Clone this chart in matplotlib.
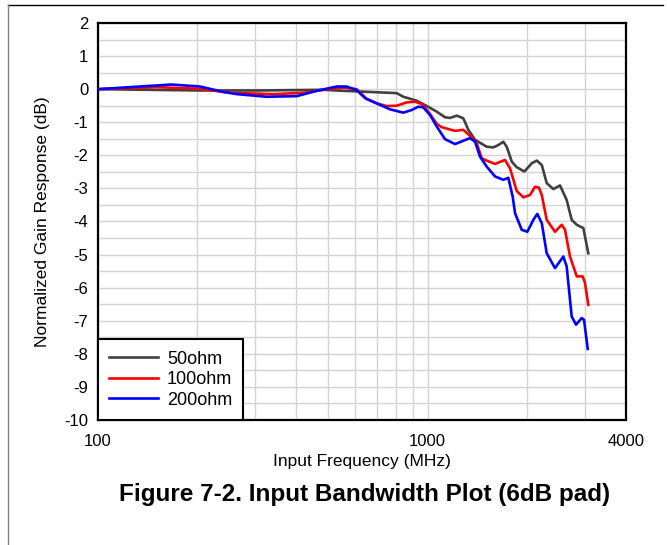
import matplotlib
matplotlib.use("Agg")
import matplotlib.pyplot as plt
from matplotlib.lines import Line2D
from matplotlib.ticker import FixedLocator, NullFormatter

plt.rcParams['font.family'] = ['Liberation Sans', 'DejaVu Sans']
plt.rcParams['axes.unicode_minus'] = False

# frequency in MHz, gain in dB
f_50 = [100, 204, 303, 482, 542, 806, 844, 927, 994, 1066, 1129, 1170, 1226,
        1283, 1329, 1393, 1442, 1511, 1583, 1639, 1697, 1738, 1800, 1864, 1966,
        2070, 2143, 2220, 2298, 2407, 2522, 2642, 2736, 2835, 2968, 3073]
g_50 = [0, -0.04, -0.04, -0.02, -0.045, -0.12, -0.23, -0.35, -0.51, -0.68,
        -0.85, -0.87, -0.80, -0.88, -1.23, -1.53, -1.62, -1.74, -1.76, -1.69,
        -1.59, -1.74, -2.19, -2.36, -2.49, -2.24, -2.16, -2.29, -2.84, -3.02,
        -2.91, -3.35, -3.95, -4.10, -4.20, -4.96]

f_100 = [100, 151, 204, 251, 340, 419, 482, 554, 609, 654, 701, 751, 806, 864,
         916, 960, 1005, 1066, 1104, 1211, 1283, 1345, 1409, 1459, 1511, 1602,
         1717, 1778, 1864, 1952, 2045, 2118, 2178, 2220, 2298, 2435, 2552, 2612,
         2704, 2835, 2955, 3003, 3073]
g_100 = [0, 0.06, 0.01, -0.11, -0.15, -0.11, -0.02, 0.05, 0, -0.30, -0.43,
         -0.51, -0.50, -0.40, -0.38, -0.45, -0.68, -1.05, -1.15, -1.26, -1.23,
         -1.41, -1.63, -2.09, -2.16, -2.26, -2.14, -2.39, -3.08, -3.27, -3.20,
         -2.95, -2.98, -3.20, -3.95, -4.31, -4.10, -4.25, -5.06, -5.66, -5.66,
         -5.86, -6.52]

f_200 = [100, 167, 204, 239, 264, 325, 401, 461, 530, 568, 609, 646, 701, 769,
         844, 895, 937, 970, 1017, 1066, 1129, 1211, 1283, 1345, 1393, 1442,
         1511, 1602, 1697, 1757, 1812, 1842, 1930, 2007, 2093, 2152, 2220, 2298,
         2435, 2581, 2642, 2736, 2820, 2934, 2982, 3060]
g_200 = [0, 0.14, 0.08, -0.08, -0.15, -0.23, -0.21, -0.05, 0.08, 0.08, -0.03,
         -0.27, -0.43, -0.61, -0.71, -0.63, -0.53, -0.55, -0.78, -1.13, -1.51,
         -1.66, -1.56, -1.48, -1.59, -2.04, -2.34, -2.64, -2.74, -2.68, -3.25,
         -3.75, -4.25, -4.31, -3.95, -3.77, -4.05, -4.96, -5.41, -5.06, -5.36,
         -6.87, -7.12, -6.92, -6.97, -7.85]

xticks = [100, 1000, 4000]
xgrid = [200, 300, 400, 500, 600, 700, 800, 900, 1000, 2000, 3000]
yticks = list(range(-10, 3))

fig = plt.figure(figsize=(6.67, 5.45), dpi=100)
ax = fig.add_axes([0.147, 0.2294, 0.7916, 0.7284])

ax.plot(f_50, g_50, color='#404040', lw=1.9, label='50ohm', zorder=3,
        solid_joinstyle='round')
ax.plot(f_100, g_100, color='#ff0000', lw=1.9, label='100ohm', zorder=4,
        solid_joinstyle='round')
ax.plot(f_200, g_200, color='#0000ff', lw=1.9, label='200ohm', zorder=5,
        solid_joinstyle='round')

ax.set_xscale('log')
ax.set_xlim(100, 4000)
ax.set_ylim(-10, 2)

ax.xaxis.set_major_locator(FixedLocator(xticks))
ax.xaxis.set_minor_locator(FixedLocator(xgrid))
ax.xaxis.set_minor_formatter(NullFormatter())
ax.set_xticklabels([str(t) for t in xticks])
ax.set_yticks(yticks)
ax.set_yticks([y + 0.5 for y in range(-10, 2)], minor=True)

ax.grid(True, which='both', color='#d4d4d4', lw=1.0, zorder=0)
ax.set_axisbelow(True)
ax.tick_params(which='both', length=0, labelsize=12, colors='black')
ax.tick_params(axis='x', pad=10)
ax.tick_params(axis='y', pad=7)
for s in ax.spines.values():
    s.set_linewidth(1.6)
    s.set_color('black')

ax.set_xlabel('Input Frequency (MHz)', fontsize=12.5, labelpad=4)
ax.set_ylabel('Normalized Gain Response (dB)', fontsize=12.5, labelpad=10)

leg = ax.legend(loc='lower left', bbox_to_anchor=(0, 0), borderaxespad=0,
                fancybox=False, fontsize=13, handlelength=2.7,
                handletextpad=0.5, borderpad=0.62, labelspacing=0.2)
leg.get_frame().set_edgecolor('black')
leg.get_frame().set_linewidth(1.5)
leg.get_frame().set_alpha(1)

fig.text(0.547, 0.093, 'Figure 7-2. Input Bandwidth Plot (6dB pad)',
         ha='center', va='center', fontsize=17.5, fontweight='bold')

# outer frame lines of the page
fig.add_artist(Line2D([0.012, 0.994], [0.991, 0.991], color='black', lw=1.0))
fig.add_artist(Line2D([0.012, 0.012], [0.0, 0.991], color='#808080', lw=1.0))

fig.savefig('out.png', dpi=100)
